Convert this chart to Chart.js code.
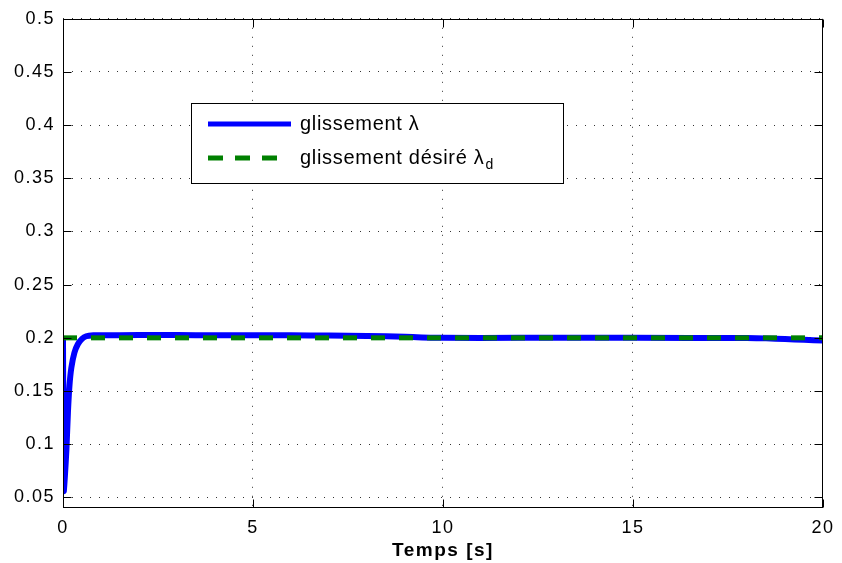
<!DOCTYPE html>
<html>
<head>
<meta charset="utf-8">
<script src="https://cdn.jsdelivr.net/npm/chart.js@4.4.1/dist/chart.umd.min.js"></script>
<style>
  html, body { margin: 0; padding: 0; background: #fff; }
</style>
</head>
<body>
<canvas id="slipChart" width="842" height="563"></canvas>
<script>
// glissement mesuré (temps en s)
const timeSlip = [0, 0.02, 0.05, 0.09, 0.13, 0.17, 0.22, 0.3, 0.39, 0.5, 0.61, 0.8, 1, 2, 3, 4, 5, 6, 7, 8, 9, 10, 12, 15, 18, 18.5, 19, 19.5, 20];
const slipValues = [0.2, 0.056, 0.07, 0.095, 0.13, 0.155, 0.172, 0.186, 0.194, 0.199, 0.2015, 0.2025, 0.2025, 0.2026, 0.2026, 0.2025, 0.2025, 0.2024, 0.2022, 0.2018, 0.201, 0.2, 0.2, 0.2, 0.1998, 0.1995, 0.1989, 0.1982, 0.1975];
// glissement désiré
const timeRef = [0, 20];
const refValues = [0.2, 0.2];

const xTicks = [0, 5, 10, 15, 20];
const yTicks = [0.05, 0.1, 0.15, 0.2, 0.25, 0.3, 0.35, 0.4, 0.45, 0.5];
const legendLabels = ["glissement λ", "glissement désiré λ"];
const legendSub = ["", "d"];

const FONT = "'Liberation Sans', Arial, Helvetica, sans-serif";
const BLUE = "#0000ff";
const GREEN = "#008000";

const toPoints = (xs, ys) => xs.map((t, i) => ({ x: t, y: ys[i] }));

// cadre + graduations vers l'intérieur (style MATLAB)
const boxPlugin = {
  id: "matlabBox",
  beforeDraw(chart) {
    // texte un peu plus large, comme dans l'export d'origine
    chart.ctx.letterSpacing = "1.5px";
  },
  afterDatasetsDraw(chart) {
    const { ctx, chartArea: a, scales: { x, y } } = chart;
    const L = Math.round(a.left) + 0.5, R = Math.round(a.right) - 0.5;
    const T = Math.round(a.top) + 0.5, B = Math.round(a.bottom) - 0.5;
    ctx.save();
    ctx.strokeStyle = "#000";
    ctx.lineWidth = 1;
    ctx.setLineDash([]);
    ctx.beginPath();
    xTicks.forEach(v => {
      const px = Math.round(x.getPixelForValue(v)) + 0.5;
      ctx.moveTo(px, B); ctx.lineTo(px, B - 8);
      ctx.moveTo(px, T); ctx.lineTo(px, T + 8);
    });
    yTicks.forEach(v => {
      const py = Math.round(y.getPixelForValue(v)) + 0.5;
      ctx.moveTo(L, py); ctx.lineTo(L + 8, py);
      ctx.moveTo(R, py); ctx.lineTo(R - 8, py);
    });
    ctx.stroke();
    ctx.strokeRect(L, T, R - L, B - T);
    ctx.restore();
  },
  afterDraw(chart) {
    const ctx = chart.ctx;
    ctx.save();
    // boîte de légende
    ctx.fillStyle = "#fff";
    ctx.fillRect(191, 103, 372, 80);
    ctx.strokeStyle = "#000";
    ctx.lineWidth = 1;
    ctx.strokeRect(191.5, 103.5, 372, 80);
    const rows = [124, 158];
    // échantillons de lignes
    ctx.lineWidth = 5;
    ctx.strokeStyle = BLUE;
    ctx.beginPath(); ctx.moveTo(208, rows[0]); ctx.lineTo(291, rows[0]); ctx.stroke();
    ctx.strokeStyle = GREEN;
    ctx.setLineDash([15, 12]);
    ctx.beginPath(); ctx.moveTo(208, rows[1]); ctx.lineTo(278, rows[1]); ctx.stroke();
    ctx.setLineDash([]);
    // textes
    ctx.fillStyle = "#000";
    ctx.textBaseline = "middle";
    ctx.letterSpacing = "0.7px";
    legendLabels.forEach((txt, i) => {
      ctx.font = "20px " + FONT;
      ctx.fillText(txt, 300, rows[i]);
      if (legendSub[i]) {
        const w = ctx.measureText(txt).width;
        ctx.font = "14px " + FONT;
        ctx.fillText(legendSub[i], 300 + w + 1, rows[i] + 7);
      }
    });
    ctx.restore();
    ctx.letterSpacing = "0px";
  }
};

new Chart(document.getElementById("slipChart"), {
  type: "line",
  data: {
    datasets: [
      {
        label: "glissement désiré",
        data: toPoints(timeRef, refValues),
        borderColor: GREEN,
        borderWidth: 5,
        borderDash: [14, 14],
        pointRadius: 0,
        tension: 0,
        order: 0
      },
      {
        label: "glissement",
        data: toPoints(timeSlip, slipValues),
        borderColor: BLUE,
        borderWidth: 6,
        pointRadius: 0,
        tension: 0.2,
        order: 1
      }
    ]
  },
  options: {
    responsive: false,
    animation: false,
    devicePixelRatio: 1,
    layout: { padding: { left: 0, right: 16, top: 15, bottom: 0 } },
    plugins: { legend: { display: false }, tooltip: { enabled: false } },
    scales: {
      x: {
        type: "linear",
        min: 0,
        max: 20,
        afterFit: s => { s.height = 55; },
        afterBuildTicks: s => { s.ticks = xTicks.map(v => ({ value: v })); },
        grid: { color: "#333", lineWidth: 1, drawTicks: false },
        border: { display: false, dash: [1, 8] },
        ticks: { color: "#000", padding: 9, font: { family: FONT, size: 18 } },
        title: {
          display: true,
          text: "Temps [s]",
          color: "#000",
          font: { family: FONT, size: 19, weight: "bold" },
          padding: { top: 0, bottom: 1 }
        }
      },
      y: {
        type: "linear",
        min: 0.04,
        max: 0.5,
        afterFit: s => { s.width = 63; },
        afterBuildTicks: s => { s.ticks = yTicks.map(v => ({ value: v })); },
        grid: { color: "#333", lineWidth: 1, drawTicks: false },
        border: { display: false, dash: [1, 8] },
        ticks: {
          color: "#000",
          padding: 8,
          font: { family: FONT, size: 18 },
          callback: v => String(Math.round(v * 100) / 100)
        }
      }
    }
  },
  plugins: [boxPlugin]
});
</script>
</body>
</html>
